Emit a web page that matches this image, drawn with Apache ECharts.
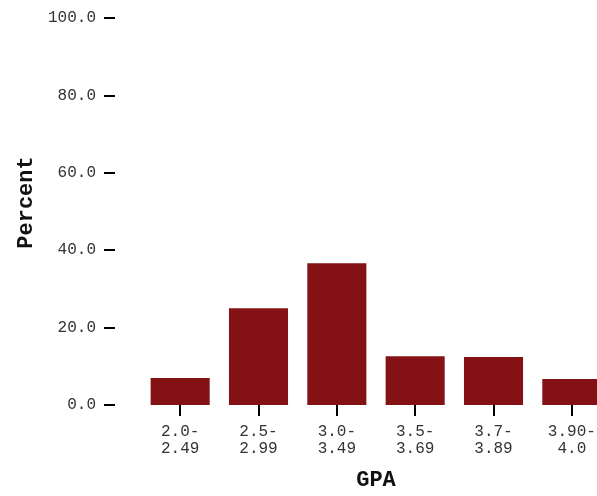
<!DOCTYPE html>
<html><head><meta charset="utf-8">
<script src="https://cdn.jsdelivr.net/npm/echarts@6/dist/echarts.min.js"></script>
<style>html,body{margin:0;padding:0;background:#fff;overflow:hidden}#c{width:612px;height:496px}</style>
</head><body><div id="c"></div>
<script>
const categories = ["2.0-\n2.49", "2.5-\n2.99", "3.0-\n3.49", "3.5-\n3.69", "3.7-\n3.89", "3.90-\n4.0"];
const percentValues = [7.0, 25.0, 36.6, 12.6, 12.4, 6.7];
const yTicks = [0, 20, 40, 60, 80, 100];

const chart = echarts.init(document.getElementById('c'), null, {renderer: 'canvas'});
const mono = '"Liberation Mono", "Courier New", monospace';
chart.setOption({
  animation: false,
  grid: {left: 141, top: 18, width: 470, height: 388, containLabel: false},
  xAxis: {
    type: 'category',
    data: categories,
    name: 'GPA',
    nameLocation: 'middle',
    nameGap: 64,
    nameTextStyle: {fontFamily: mono, fontWeight: 'bold', fontSize: 22, color: '#111'},
    axisLine: {show: false},
    axisTick: {show: true, alignWithLabel: true, length: 11, lineStyle: {color: '#000', width: 2}},
    axisLabel: {fontFamily: mono, fontSize: 16, color: '#333', margin: 18, lineHeight: 17, interval: 0}
  },
  yAxis: {
    type: 'value',
    min: yTicks[0], max: yTicks[yTicks.length - 1], interval: 20,
    offset: 26,
    name: 'Percent',
    nameLocation: 'middle',
    nameGap: 78,
    nameRotate: 90,
    nameTextStyle: {fontFamily: mono, fontWeight: 'bold', fontSize: 22, color: '#111', padding: [0, 0, 0, 18]},
    axisLine: {show: false},
    axisTick: {show: true, length: 11, lineStyle: {color: '#000', width: 2}},
    axisLabel: {fontFamily: mono, fontSize: 16, color: '#333', margin: 19, formatter: v => v.toFixed(1)},
    splitLine: {show: false}
  },
  series: [{
    type: 'bar',
    data: percentValues,
    barCategoryGap: '24.6%',
    itemStyle: {color: '#841215'}
  }]
});
</script></body></html>
